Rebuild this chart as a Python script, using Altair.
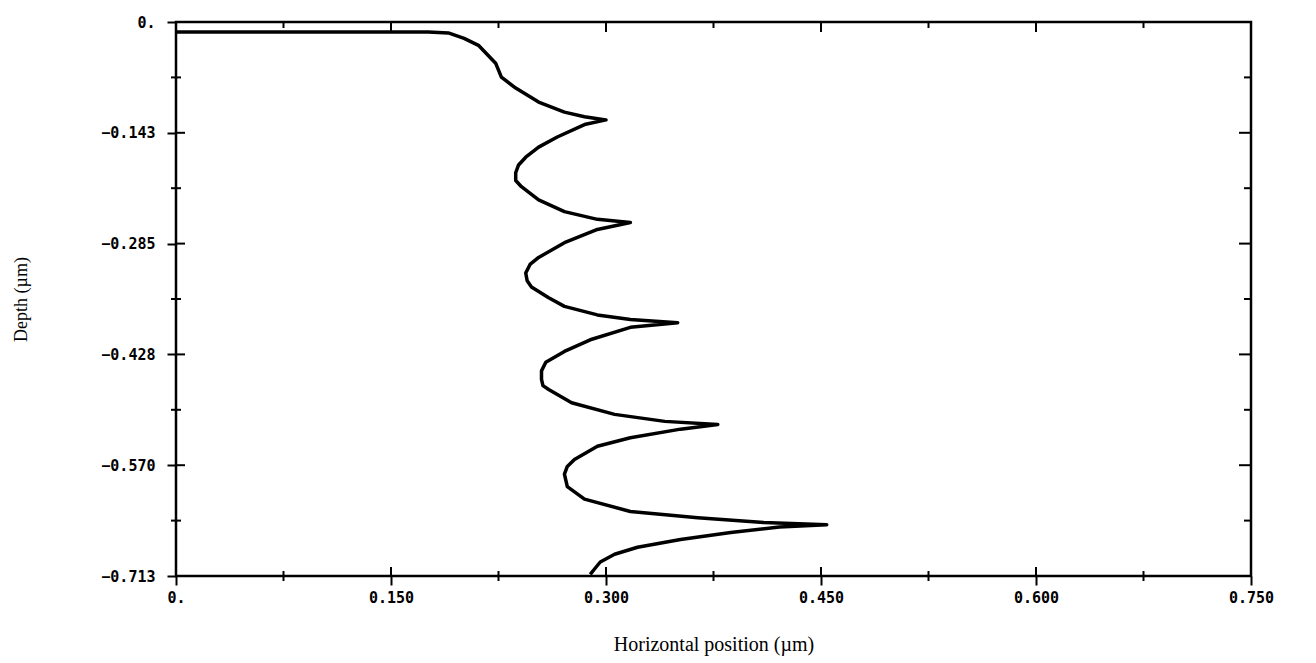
import altair as alt
import pandas as pd

# Profile curve (horizontal position in um, depth in um)
pos_x = [0.000, 0.155, 0.176, 0.190, 0.201, 0.211, 0.223, 0.227, 0.237, 0.253, 0.271, 0.285, 0.300,
         0.285, 0.266, 0.253, 0.244, 0.239, 0.237, 0.237, 0.241, 0.253, 0.271, 0.294, 0.317,
         0.294, 0.271, 0.253, 0.247, 0.244, 0.245, 0.248, 0.260, 0.271, 0.294, 0.317, 0.350,
         0.317, 0.289, 0.271, 0.258, 0.255, 0.255, 0.256, 0.260, 0.276, 0.306, 0.341, 0.378,
         0.352, 0.317, 0.294, 0.278, 0.273, 0.271, 0.272, 0.273, 0.285, 0.317, 0.364, 0.410, 0.454,
         0.421, 0.387, 0.352, 0.322, 0.306, 0.296, 0.292, 0.289]
depth = [-0.013, -0.013, -0.013, -0.014, -0.021, -0.030, -0.053, -0.071, -0.085, -0.103, -0.116, -0.122, -0.126,
         -0.132, -0.148, -0.161, -0.174, -0.184, -0.194, -0.204, -0.212, -0.229, -0.244, -0.254, -0.258,
         -0.267, -0.284, -0.303, -0.312, -0.323, -0.333, -0.341, -0.355, -0.366, -0.377, -0.383, -0.387,
         -0.393, -0.409, -0.424, -0.438, -0.449, -0.460, -0.468, -0.473, -0.490, -0.505, -0.514, -0.518,
         -0.524, -0.535, -0.546, -0.563, -0.572, -0.582, -0.590, -0.598, -0.614, -0.630, -0.638, -0.644, -0.647,
         -0.650, -0.657, -0.666, -0.676, -0.685, -0.695, -0.704, -0.711]

x_major = [0.0, 0.15, 0.3, 0.45, 0.6, 0.75]
x_minor = [0.075, 0.225, 0.375, 0.525, 0.675]
y_major = [0.0, -0.1426, -0.2852, -0.4278, -0.5704, -0.713]
y_minor = [-0.0713, -0.2139, -0.3565, -0.4991, -0.6417]

W, H = 1075, 554

curve = pd.DataFrame({"x": pos_x, "y": depth, "i": list(range(len(pos_x)))})
xmaj = pd.DataFrame({"x": x_major})
xmin = pd.DataFrame({"x": x_minor})
ymaj = pd.DataFrame({"y": y_major})
ymin = pd.DataFrame({"y": y_minor})

xs = alt.Scale(domain=[0, 0.75], nice=False, zero=False)
ys = alt.Scale(domain=[-0.713, 0], nice=False, zero=False)

label_expr = "abs(datum.value) < 1e-9 ? '0.' : format(datum.value, '.3f')"

x_axis = alt.Axis(values=x_major, labelExpr=label_expr, title="Horizontal position (µm)",
                  grid=False, domain=False, tickSize=9, tickWidth=2, tickColor="black",
                  labelFont="DejaVu Sans Mono", labelFontWeight="bold", labelFontSize=15,
                  labelColor="black", labelPadding=5, labelFlush=False,
                  titleFont="Liberation Serif", titleFontSize=20, titleFontWeight="normal",
                  titleColor="black", titlePadding=29)
y_axis = alt.Axis(values=y_major, labelExpr=label_expr, title="Depth (µm)",
                  grid=False, domain=False, tickSize=9, tickWidth=2, tickColor="black",
                  labelFont="DejaVu Sans Mono", labelFontWeight="bold", labelFontSize=15,
                  labelColor="black", labelPadding=12, labelFlush=False,
                  titleFont="Liberation Serif", titleFontSize=18, titleFontWeight="normal",
                  titleColor="black", titlePadding=70)

line = alt.Chart(curve).mark_line(color="black", strokeWidth=3.5, strokeJoin="round").encode(
    x=alt.X("x:Q", scale=xs, axis=x_axis),
    y=alt.Y("y:Q", scale=ys, axis=y_axis),
    order="i:O",
)

def xticks(df, y0, y1, w):
    return alt.Chart(df).mark_rule(color="black", strokeWidth=w).encode(
        x=alt.X("x:Q", scale=xs), y=alt.value(y0), y2=alt.value(y1))

def yticks(df, x0, x1, w):
    return alt.Chart(df).mark_rule(color="black", strokeWidth=w).encode(
        y=alt.Y("y:Q", scale=ys), x=alt.value(x0), x2=alt.value(x1))

ticks = [
    xticks(xmaj, H - 9, H, 2), xticks(xmin, H - 5, H + 5, 2),
    xticks(xmaj, 0, 10, 2), xticks(xmin, 0, 6, 2),
    yticks(ymaj, 0, 9, 2), yticks(ymin, -5, 5, 2),
    yticks(ymaj, W - 12, W, 2), yticks(ymin, W - 7, W, 2),
]

chart = alt.layer(line, *ticks).properties(
    width=W, height=H,
    autosize=alt.AutoSizeParams(type="none"),
    padding={"left": 176, "top": 22, "right": 65, "bottom": 87},
).configure(background="white").configure_view(stroke="black", strokeWidth=2.5)

chart.save("out.html", embed_options={"renderer": "svg", "actions": False})
